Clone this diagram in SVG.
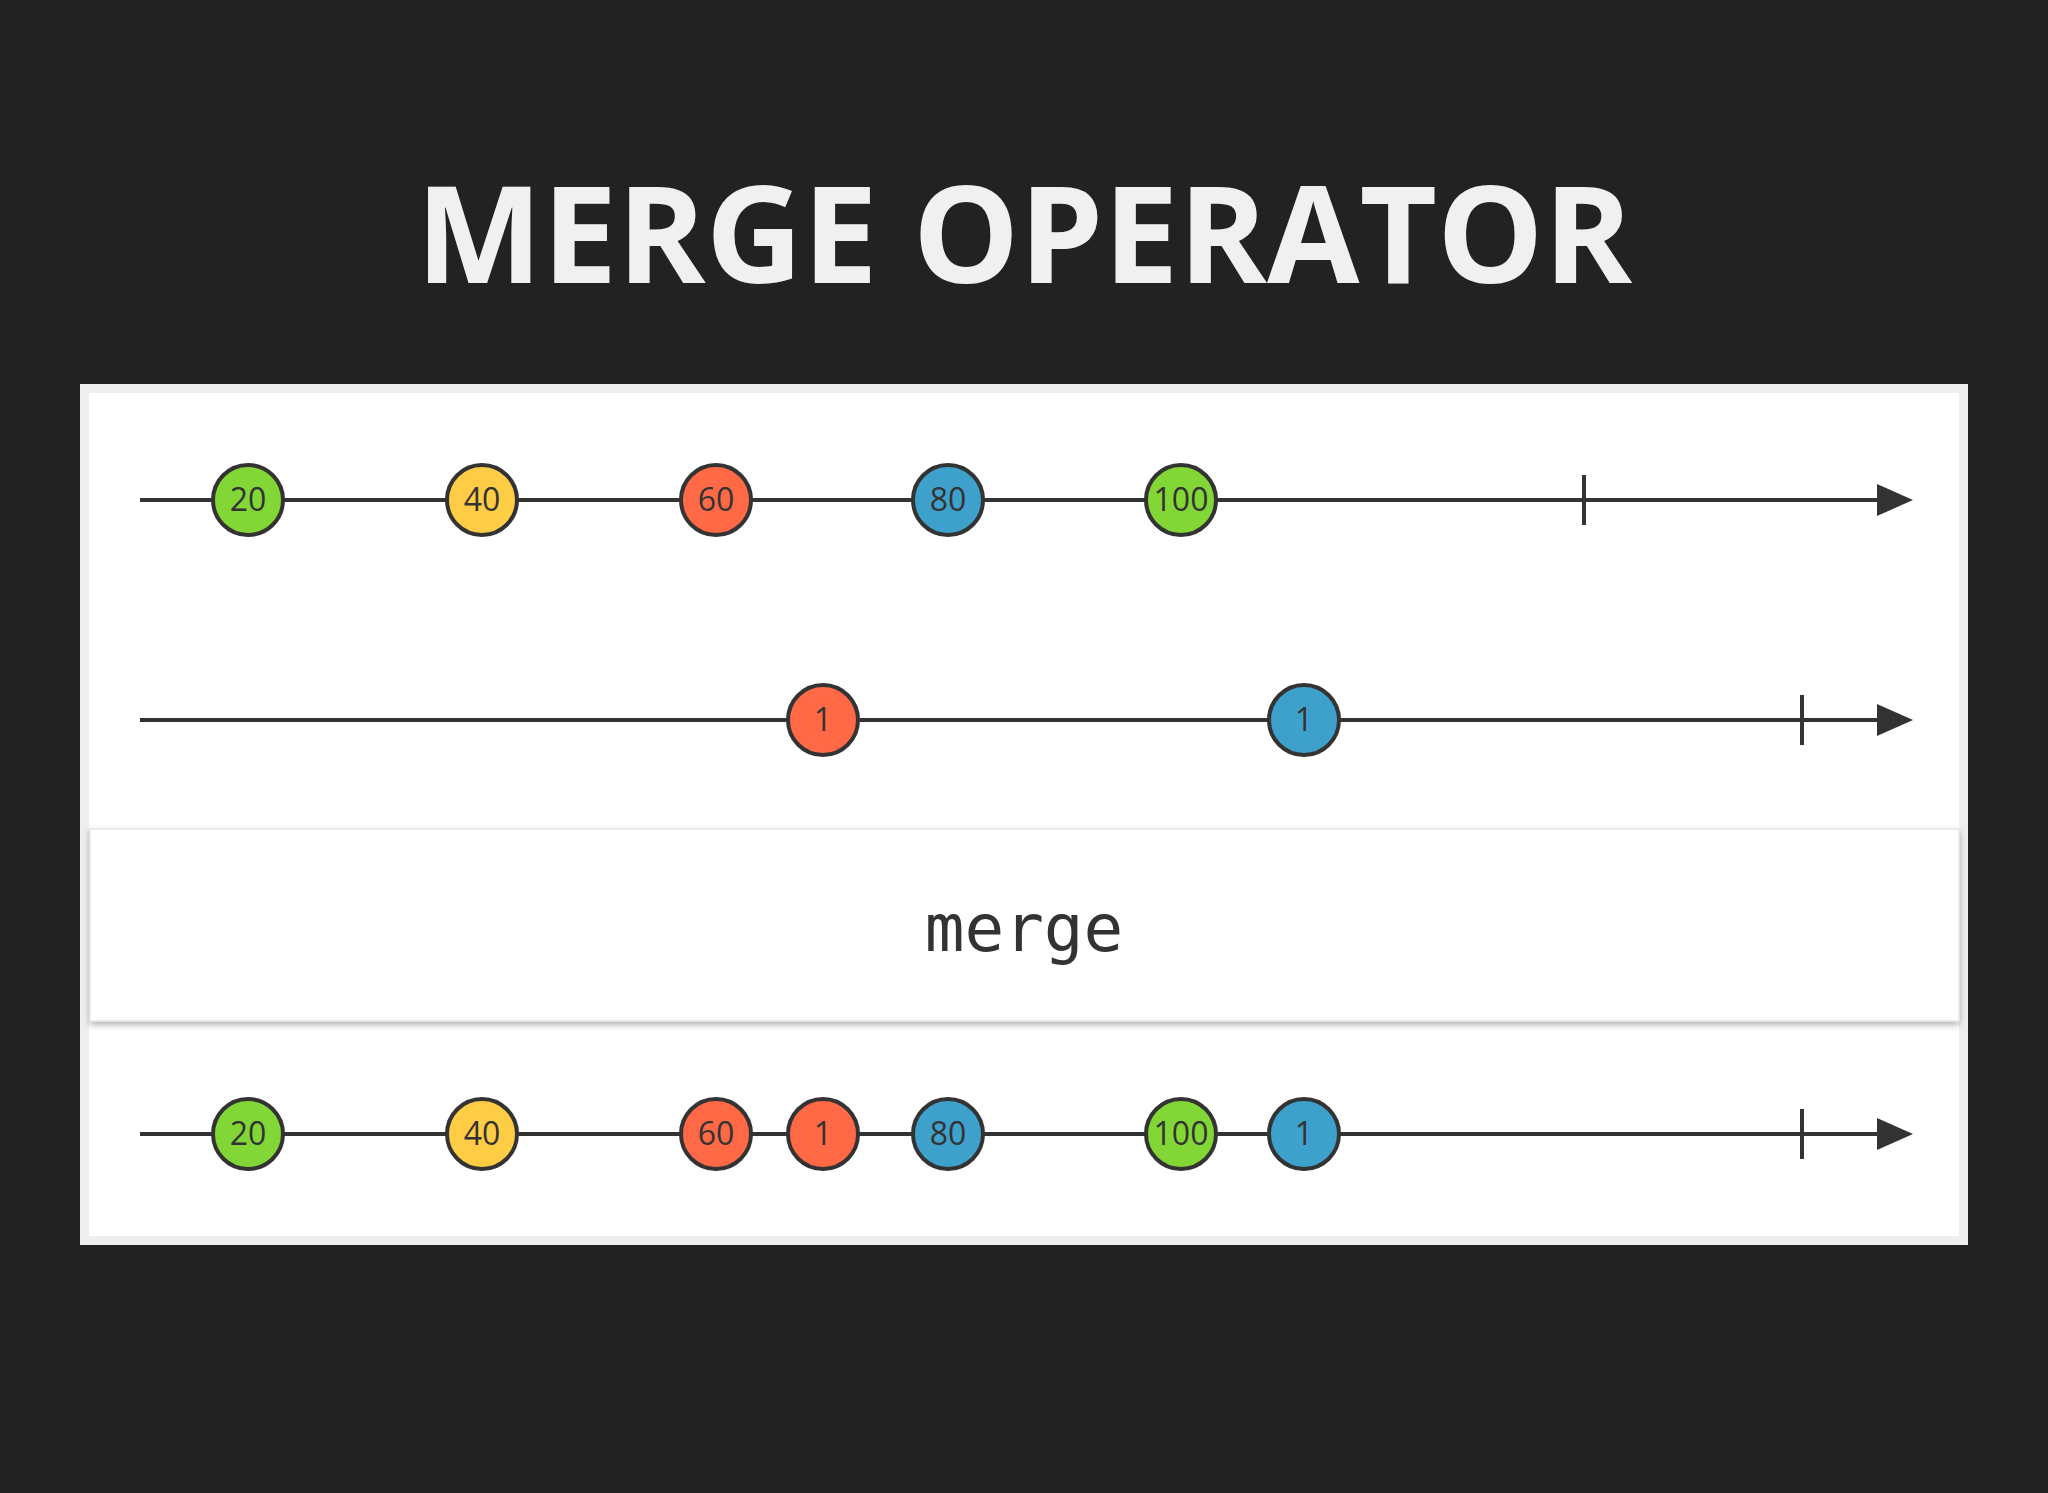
<svg xmlns="http://www.w3.org/2000/svg" width="2048" height="1493" viewBox="0 0 2048 1493">
<defs>
<style>
.ln{stroke:#333;stroke-width:4;fill:none}
.c{stroke:#333;stroke-width:4}
.g{fill:#82d736}.y{fill:#ffcc45}.o{fill:#ff6946}.b{fill:#3ea1cb}
.t{font-family:"Open Sans","Liberation Sans",sans-serif;font-size:32px;fill:#333;text-anchor:middle}
</style>
<filter id="sh" x="-5%" y="-20%" width="110%" height="150%"><feDropShadow dx="0" dy="3" stdDeviation="3" flood-color="#000" flood-opacity="0.3"/></filter>
</defs>
<rect width="2048" height="1493" fill="#222223"/>
<text x="1024" y="283" font-family="'Open Sans','Liberation Sans',sans-serif" font-weight="bold" font-size="134" fill="#f0f0f0" text-anchor="middle">MERGE OPERATOR</text>
<rect x="80" y="384" width="1888" height="861" fill="#eeeeee"/>
<rect x="89" y="393" width="1870" height="843" fill="#ffffff"/>
<g id="connectors">
<line class="ln" x1="140" y1="500" x2="1880" y2="500"/><polygon points="1877,484 1913,500 1877,516" fill="#333"/><line class="ln" x1="1584" y1="475" x2="1584" y2="525"/>
<line class="ln" x1="140" y1="720" x2="1880" y2="720"/><polygon points="1877,704 1913,720 1877,736" fill="#333"/><line class="ln" x1="1802" y1="695" x2="1802" y2="745"/>
<line class="ln" x1="140" y1="1134" x2="1880" y2="1134"/><polygon points="1877,1118 1913,1134 1877,1150" fill="#333"/><line class="ln" x1="1802" y1="1109" x2="1802" y2="1159"/>
</g>
<g id="merge"><rect x="90" y="829" width="1869" height="192" fill="#fff" stroke="#e6e6e6" stroke-width="1.5" filter="url(#sh)"/>
<text x="1024" y="951" font-family="'DejaVu Sans Mono','Liberation Mono',monospace" font-size="66" fill="#333" text-anchor="middle">merge</text></g>
<g id="s1">
<g id="a20"><circle class="c g" cx="248" cy="500" r="35"/><text class="t" x="248" y="511">20</text></g>
<g id="a40"><circle class="c y" cx="482" cy="500" r="35"/><text class="t" x="482" y="511">40</text></g>
<g id="a60"><circle class="c o" cx="716" cy="500" r="35"/><text class="t" x="716" y="511">60</text></g>
<g id="a80"><circle class="c b" cx="948" cy="500" r="35"/><text class="t" x="948" y="511">80</text></g>
<g id="a100"><circle class="c g" cx="1181" cy="500" r="35"/><text class="t" x="1181" y="511">100</text></g>
</g>
<g id="s2">
<g id="b1"><circle class="c o" cx="823" cy="720" r="35"/><text class="t" x="823" y="731">1</text></g>
<g id="b2"><circle class="c b" cx="1304" cy="720" r="35"/><text class="t" x="1304" y="731">1</text></g>
</g>
<g id="s3">
<g id="m20"><circle class="c g" cx="248" cy="1134" r="35"/><text class="t" x="248" y="1145">20</text></g>
<g id="m40"><circle class="c y" cx="482" cy="1134" r="35"/><text class="t" x="482" y="1145">40</text></g>
<g id="m60"><circle class="c o" cx="716" cy="1134" r="35"/><text class="t" x="716" y="1145">60</text></g>
<g id="m1a"><circle class="c o" cx="823" cy="1134" r="35"/><text class="t" x="823" y="1145">1</text></g>
<g id="m80"><circle class="c b" cx="948" cy="1134" r="35"/><text class="t" x="948" y="1145">80</text></g>
<g id="m100"><circle class="c g" cx="1181" cy="1134" r="35"/><text class="t" x="1181" y="1145">100</text></g>
<g id="m1b"><circle class="c b" cx="1304" cy="1134" r="35"/><text class="t" x="1304" y="1145">1</text></g>
</g>
</svg>
